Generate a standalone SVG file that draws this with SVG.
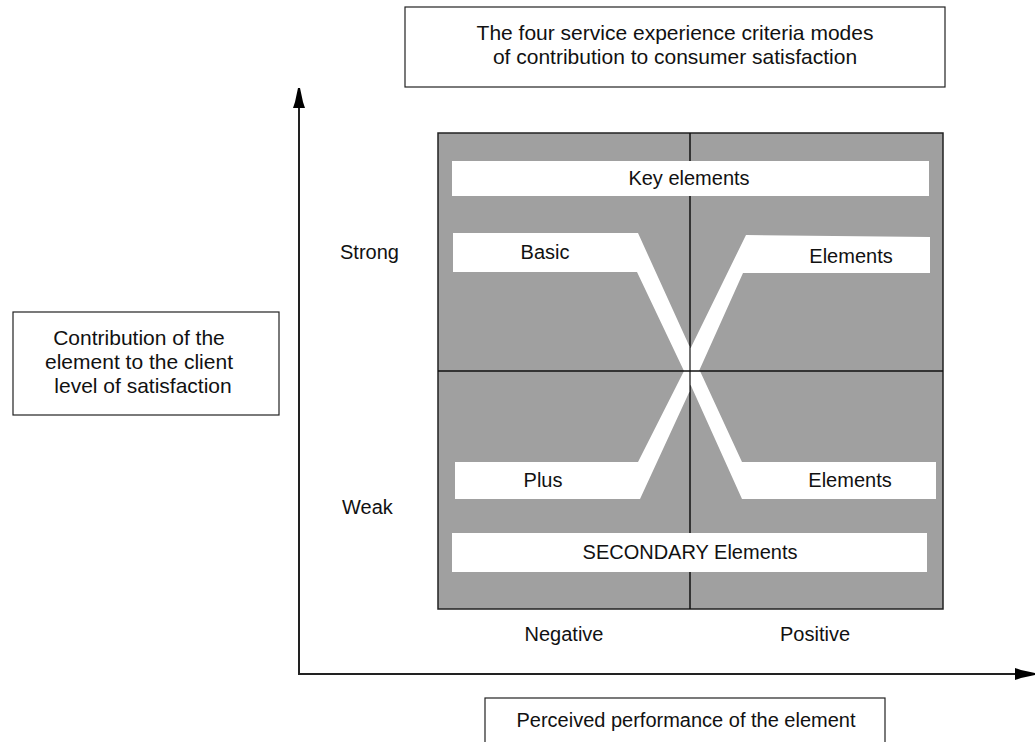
<svg xmlns="http://www.w3.org/2000/svg" width="1036" height="742" viewBox="0 0 1036 742">
  <style>
    text { font-family: "Liberation Sans", Arial, sans-serif; font-size: 20px; fill: #111; }
    .mid { text-anchor: middle; }
    .big { font-size: 21px; }
    .frame { fill: #fff; stroke: #222; stroke-width: 1.2; }
    .band { fill: #fff; stroke: none; }
    .grid { stroke: #111; stroke-width: 1.5; fill: none; }
    .axis { stroke: #222; stroke-width: 2; fill: none; }
  </style>
  <defs>
    <marker id="arrow" viewBox="0 0 20 14" refX="2" refY="7" markerWidth="20" markerHeight="14" markerUnits="userSpaceOnUse" orient="auto">
      <path d="M0,1 L6,3 L20,6 L20,8 L6,11 L0,13 Z" fill="#000"/>
    </marker>
  </defs>

  <!-- axes -->
  <g id="connectors">
    <line class="axis" x1="299" y1="674" x2="299" y2="106" marker-end="url(#arrow)"/>
    <line class="axis" x1="298" y1="674" x2="1017" y2="674" marker-end="url(#arrow)"/>
  </g>

  <!-- title -->
  <g id="title">
    <rect class="frame" x="405" y="7" width="540" height="80"/>
    <text class="mid big" x="675" y="40">The four service experience criteria modes</text>
    <text class="mid big" x="675" y="64">of contribution to consumer satisfaction</text>
  </g>

  <!-- vertical axis label -->
  <g id="y-label">
    <rect class="frame" x="13" y="312" width="266" height="103"/>
    <text class="mid big" x="139" y="345">Contribution of the</text>
    <text class="mid big" x="139" y="369">element to the client</text>
    <text class="mid big" x="143" y="393">level of satisfaction</text>
  </g>

  <!-- horizontal axis label -->
  <g id="x-label">
    <rect class="frame" x="485" y="698" width="400" height="60"/>
    <text class="mid" x="686" y="727">Perceived performance of the element</text>
  </g>

  <!-- quadrant panel -->
  <g id="panel">
    <rect x="438" y="133" width="505" height="476" fill="#a0a0a0" stroke="#222" stroke-width="1.5"/>
    <line class="grid" x1="690" y1="133" x2="690" y2="609"/>
  </g>

  <g id="key-elements">
    <rect class="band" x="452" y="161" width="477" height="35"/>
    <text class="mid" x="689" y="185">Key elements</text>
  </g>

  <g id="basic">
    <polygon class="band" points="453,233 638,233 689.3,346 689.3,371 684,371 637,272 453,272"/>
    <text class="mid" x="545" y="259">Basic</text>
  </g>

  <g id="elements-top">
    <polygon class="band" points="746,235 930,237 930,273 743,273 699,371 690.7,371 690.7,348"/>
    <text class="mid" x="851" y="263">Elements</text>
  </g>

  <g id="plus">
    <polygon class="band" points="684,371 689.3,371 689.3,392 640,499 455,499 455,462 638,462"/>
    <text class="mid" x="543" y="487">Plus</text>
  </g>

  <g id="elements-bottom">
    <polygon class="band" points="690.7,371 700,371 742,462 936,462 936,499 742,499 690.7,385"/>
    <text class="mid" x="850" y="487">Elements</text>
  </g>

  <g id="secondary">
    <rect class="band" x="452" y="533" width="475" height="39"/>
    <text class="mid" x="690" y="559">SECONDARY Elements</text>
  </g>

  <g id="midline">
    <line class="grid" x1="438" y1="371" x2="943" y2="371"/>
  </g>

  <!-- scale labels -->
  <g id="scale">
    <text x="340" y="259">Strong</text>
    <text x="342" y="514">Weak</text>
    <text class="mid" x="564" y="641">Negative</text>
    <text class="mid" x="815" y="641">Positive</text>
  </g>
</svg>
